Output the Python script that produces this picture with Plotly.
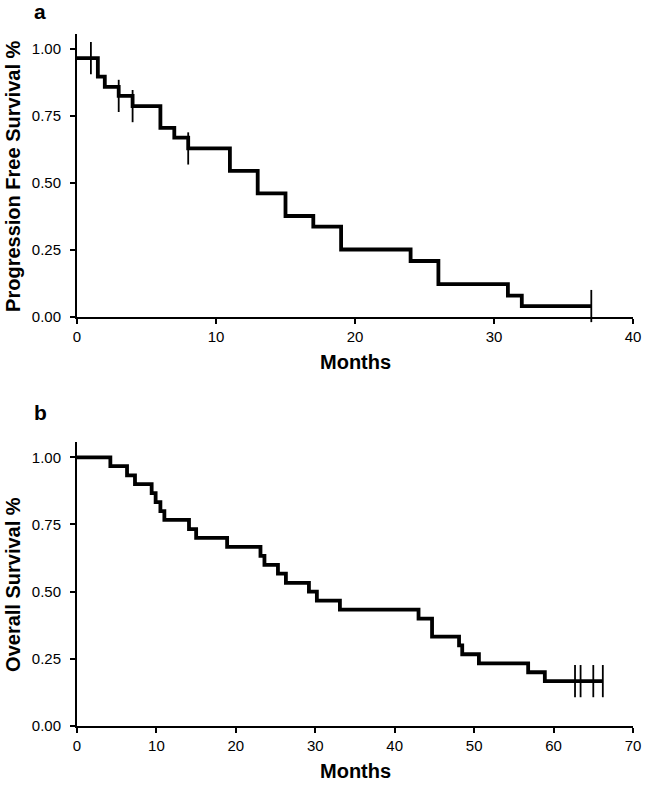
import plotly.graph_objects as go

# Panel a: progression free survival
pfs_time = [0, 1.5, 2, 3, 4, 6, 7, 8, 11, 13, 15, 17, 19, 24, 26, 31, 32, 37]
pfs_surv = [0.966, 0.897, 0.859, 0.825, 0.787, 0.706, 0.669, 0.629, 0.545, 0.461,
            0.377, 0.337, 0.252, 0.209, 0.123, 0.080, 0.041, 0.041]
pfs_cens_time = [1, 3, 4, 8, 37]
pfs_cens_surv = [0.966, 0.825, 0.787, 0.629, 0.041]

# Panel b: overall survival
os_time = [0, 4.2, 6.3, 7.3, 9.4, 9.9, 10.5, 11.0, 14.1, 15.0, 18.9, 23.1, 23.6, 25.3,
           26.3, 29.2, 30.2, 33.1, 43.0, 44.7, 48.1, 48.5, 50.6, 56.8, 58.9, 66.2]
os_surv = [1.0, 0.967, 0.933, 0.900, 0.867, 0.833, 0.800, 0.767, 0.733, 0.700, 0.667,
           0.633, 0.600, 0.567, 0.533, 0.500, 0.467, 0.433, 0.400, 0.333, 0.300, 0.267,
           0.233, 0.200, 0.167, 0.167]
os_cens_time = [62.7, 63.4, 65.0, 66.2]
os_cens_surv = [0.167, 0.167, 0.167, 0.167]

y_ticks = [0, 0.25, 0.5, 0.75, 1.0]
y_labels = ["0.00", "0.25", "0.50", "0.75", "1.00"]
pfs_xticks = [0, 10, 20, 30, 40]
os_xticks = [0, 10, 20, 30, 40, 50, 60, 70]

FONT = "Liberation Sans, Arial, sans-serif"

fig = go.Figure()
fig.add_trace(go.Scatter(x=pfs_time, y=pfs_surv, mode="lines", line=dict(shape="hv", color="black", width=3.8),
                         xaxis="x", yaxis="y", showlegend=False, cliponaxis=False, hoverinfo="skip"))
fig.add_trace(go.Scatter(x=pfs_cens_time, y=pfs_cens_surv, mode="markers",
                         marker=dict(symbol="line-ns", size=23, line=dict(color="black", width=1.8)),
                         xaxis="x", yaxis="y", showlegend=False, cliponaxis=False, hoverinfo="skip"))
fig.add_trace(go.Scatter(x=os_time, y=os_surv, mode="lines", line=dict(shape="hv", color="black", width=3.8),
                         xaxis="x2", yaxis="y2", showlegend=False, cliponaxis=False, hoverinfo="skip"))
fig.add_trace(go.Scatter(x=os_cens_time, y=os_cens_surv, mode="markers",
                         marker=dict(symbol="line-ns", size=23, line=dict(color="black", width=1.8)),
                         xaxis="x2", yaxis="y2", showlegend=False, cliponaxis=False, hoverinfo="skip"))

axis_common = dict(showline=True, linecolor="black", linewidth=2, ticks="outside", ticklen=5,
                   tickwidth=2, tickcolor="black", showgrid=False, zeroline=False,
                   ticklabeloverflow="allow",
                   tickfont=dict(family=FONT, size=15, color="black"))

fig.update_layout(
    width=649, height=787,
    margin=dict(l=77, r=8, t=34, b=61),
    paper_bgcolor="white", plot_bgcolor="white",
    font=dict(family=FONT, color="black"),
    xaxis=dict(domain=[0, 1], range=[0, 40], tickvals=pfs_xticks, anchor="y", **axis_common),
    yaxis=dict(domain=[0.591, 1], range=[0, 1.056], tickvals=y_ticks, ticktext=y_labels, anchor="x",
               ticklabelstandoff=6, **axis_common),
    xaxis2=dict(domain=[0, 1], range=[0, 70], tickvals=os_xticks, anchor="y2", **axis_common),
    yaxis2=dict(domain=[0, 0.410], range=[0, 1.056], tickvals=y_ticks, ticktext=y_labels, anchor="x2",
                ticklabelstandoff=6, **axis_common),
)

W = 564.0
H = 692.0
def px_x(p):
    return (p - 77) / W
def px_y(p):
    return (726 - p) / H

ann = [
    dict(text="<b>a</b>", x=px_x(39), y=px_y(11), font=dict(size=21)),
    dict(text="<b>b</b>", x=px_x(40), y=px_y(412), font=dict(size=21)),
    dict(text="<b>Progression Free Survival %</b>", x=px_x(12), y=px_y(176), textangle=-90, font=dict(size=20)),
    dict(text="<b>Overall Survival %</b>", x=px_x(12), y=px_y(584), textangle=-90, font=dict(size=20)),
    dict(text="<b>Months</b>", x=px_x(359), y=px_y(362), font=dict(size=20)),
    dict(text="<b>Months</b>", x=px_x(359), y=px_y(771), font=dict(size=20)),
]
for a in ann:
    a.update(xref="paper", yref="paper", showarrow=False, xanchor="center", yanchor="middle")
    a["font"].update(family=FONT, color="black")
    fig.add_annotation(**a)

fig.write_html(
    "out.html", config={"displayModeBar": False},
    post_script=("document.documentElement.style.margin='0';document.documentElement.style.overflow='hidden';"
                 "document.body.style.margin='0';document.body.style.padding='0';document.body.style.overflow='hidden';"),
)
